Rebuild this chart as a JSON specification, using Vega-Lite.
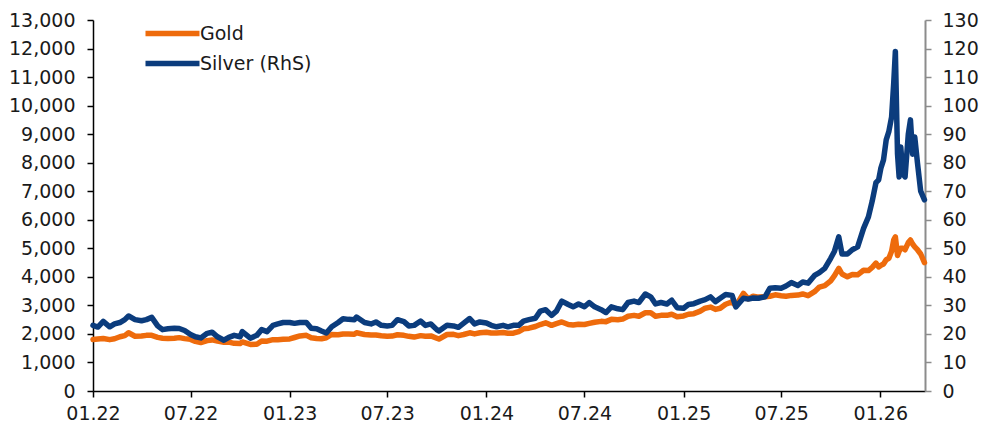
{
  "$schema": "https://vega.github.io/schema/vega-lite/v6.json",
  "width": 832,
  "height": 371,
  "autosize": {"type": "none"},
  "padding": {"left": 93, "top": 20, "right": 57, "bottom": 37},
  "background": "white",
  "config": {
    "view": {"stroke": null},
    "font": "DejaVu Sans",
    "axis": {"grid": false, "title": null, "labelFont": "DejaVu Sans", "labelFontSize": 19, "labelColor": "#1a1a1a", "domainWidth": 1.5, "tickWidth": 1.5, "tickSize": 6}
  },
  "data": {
    "values": [
      {"d": "2022-01-01", "g": 1805, "s": 23.0},
      {"d": "2022-01-10", "g": 1820, "s": 22.4},
      {"d": "2022-01-20", "g": 1840, "s": 24.4},
      {"d": "2022-02-01", "g": 1800, "s": 22.5},
      {"d": "2022-02-10", "g": 1830, "s": 23.5},
      {"d": "2022-02-20", "g": 1900, "s": 24.0},
      {"d": "2022-03-01", "g": 1940, "s": 25.0},
      {"d": "2022-03-08", "g": 2040, "s": 26.3},
      {"d": "2022-03-20", "g": 1920, "s": 25.0},
      {"d": "2022-04-01", "g": 1925, "s": 24.6},
      {"d": "2022-04-10", "g": 1950, "s": 25.0},
      {"d": "2022-04-20", "g": 1950, "s": 25.8},
      {"d": "2022-05-01", "g": 1880, "s": 22.8},
      {"d": "2022-05-10", "g": 1850, "s": 21.5},
      {"d": "2022-05-20", "g": 1840, "s": 21.8},
      {"d": "2022-06-01", "g": 1850, "s": 22.0},
      {"d": "2022-06-10", "g": 1870, "s": 21.9},
      {"d": "2022-06-20", "g": 1835, "s": 21.2},
      {"d": "2022-07-01", "g": 1810, "s": 19.8},
      {"d": "2022-07-10", "g": 1740, "s": 19.0},
      {"d": "2022-07-20", "g": 1700, "s": 18.6},
      {"d": "2022-08-01", "g": 1765, "s": 20.2},
      {"d": "2022-08-10", "g": 1790, "s": 20.6},
      {"d": "2022-08-20", "g": 1750, "s": 19.0},
      {"d": "2022-09-01", "g": 1710, "s": 17.8},
      {"d": "2022-09-10", "g": 1715, "s": 18.8},
      {"d": "2022-09-20", "g": 1670, "s": 19.5},
      {"d": "2022-10-01", "g": 1665, "s": 19.0},
      {"d": "2022-10-05", "g": 1720, "s": 20.8},
      {"d": "2022-10-20", "g": 1630, "s": 18.5},
      {"d": "2022-11-01", "g": 1640, "s": 19.5},
      {"d": "2022-11-10", "g": 1750, "s": 21.5},
      {"d": "2022-11-20", "g": 1745, "s": 20.8},
      {"d": "2022-12-01", "g": 1800, "s": 23.0},
      {"d": "2022-12-10", "g": 1795, "s": 23.5},
      {"d": "2022-12-20", "g": 1810, "s": 24.0},
      {"d": "2023-01-01", "g": 1825, "s": 24.0},
      {"d": "2023-01-10", "g": 1875, "s": 23.7},
      {"d": "2023-01-20", "g": 1930, "s": 24.0},
      {"d": "2023-02-01", "g": 1950, "s": 24.0},
      {"d": "2023-02-10", "g": 1865, "s": 22.0},
      {"d": "2023-02-20", "g": 1840, "s": 21.8},
      {"d": "2023-03-01", "g": 1830, "s": 21.0},
      {"d": "2023-03-10", "g": 1865, "s": 20.3},
      {"d": "2023-03-20", "g": 1980, "s": 22.5},
      {"d": "2023-04-01", "g": 1970, "s": 24.0},
      {"d": "2023-04-10", "g": 2000, "s": 25.3},
      {"d": "2023-04-20", "g": 2000, "s": 25.1},
      {"d": "2023-05-01", "g": 1990, "s": 25.0},
      {"d": "2023-05-05", "g": 2040, "s": 25.9},
      {"d": "2023-05-20", "g": 1980, "s": 24.0},
      {"d": "2023-06-01", "g": 1960, "s": 23.5},
      {"d": "2023-06-10", "g": 1960, "s": 24.2},
      {"d": "2023-06-20", "g": 1935, "s": 23.0},
      {"d": "2023-07-01", "g": 1920, "s": 22.8},
      {"d": "2023-07-10", "g": 1925, "s": 23.0},
      {"d": "2023-07-20", "g": 1970, "s": 25.0},
      {"d": "2023-08-01", "g": 1950, "s": 24.3},
      {"d": "2023-08-10", "g": 1915, "s": 22.8},
      {"d": "2023-08-20", "g": 1890, "s": 23.0},
      {"d": "2023-09-01", "g": 1940, "s": 24.5},
      {"d": "2023-09-10", "g": 1920, "s": 23.0},
      {"d": "2023-09-20", "g": 1930, "s": 23.5},
      {"d": "2023-10-01", "g": 1850, "s": 21.5},
      {"d": "2023-10-05", "g": 1820, "s": 21.0},
      {"d": "2023-10-20", "g": 1980, "s": 23.0},
      {"d": "2023-11-01", "g": 1985, "s": 22.8},
      {"d": "2023-11-10", "g": 1940, "s": 22.3},
      {"d": "2023-11-20", "g": 1980, "s": 23.8},
      {"d": "2023-12-01", "g": 2040, "s": 25.4},
      {"d": "2023-12-10", "g": 2000, "s": 23.5},
      {"d": "2023-12-20", "g": 2040, "s": 24.2},
      {"d": "2024-01-01", "g": 2060, "s": 23.8},
      {"d": "2024-01-10", "g": 2030, "s": 23.0},
      {"d": "2024-01-20", "g": 2030, "s": 22.5},
      {"d": "2024-02-01", "g": 2050, "s": 23.0},
      {"d": "2024-02-10", "g": 2025, "s": 22.5},
      {"d": "2024-02-20", "g": 2025, "s": 23.0},
      {"d": "2024-03-01", "g": 2080, "s": 23.0},
      {"d": "2024-03-10", "g": 2180, "s": 24.5},
      {"d": "2024-03-20", "g": 2200, "s": 25.0},
      {"d": "2024-04-01", "g": 2260, "s": 25.5},
      {"d": "2024-04-10", "g": 2330, "s": 28.0},
      {"d": "2024-04-20", "g": 2390, "s": 28.5},
      {"d": "2024-05-01", "g": 2300, "s": 26.5},
      {"d": "2024-05-10", "g": 2360, "s": 28.0},
      {"d": "2024-05-20", "g": 2420, "s": 31.5},
      {"d": "2024-06-01", "g": 2330, "s": 30.3},
      {"d": "2024-06-10", "g": 2310, "s": 29.5},
      {"d": "2024-06-20", "g": 2340, "s": 30.5},
      {"d": "2024-07-01", "g": 2330, "s": 29.5},
      {"d": "2024-07-10", "g": 2370, "s": 31.0},
      {"d": "2024-07-20", "g": 2410, "s": 29.5},
      {"d": "2024-08-01", "g": 2440, "s": 28.5},
      {"d": "2024-08-10", "g": 2430, "s": 27.5},
      {"d": "2024-08-20", "g": 2510, "s": 29.5},
      {"d": "2024-09-01", "g": 2500, "s": 28.8},
      {"d": "2024-09-10", "g": 2520, "s": 28.5},
      {"d": "2024-09-20", "g": 2620, "s": 31.0},
      {"d": "2024-10-01", "g": 2650, "s": 31.5},
      {"d": "2024-10-10", "g": 2620, "s": 31.0},
      {"d": "2024-10-22", "g": 2740, "s": 34.0},
      {"d": "2024-11-01", "g": 2740, "s": 33.0},
      {"d": "2024-11-10", "g": 2620, "s": 30.5},
      {"d": "2024-11-20", "g": 2650, "s": 31.0},
      {"d": "2024-12-01", "g": 2650, "s": 30.5},
      {"d": "2024-12-10", "g": 2690, "s": 31.8},
      {"d": "2024-12-20", "g": 2600, "s": 29.2},
      {"d": "2025-01-01", "g": 2630, "s": 29.0},
      {"d": "2025-01-10", "g": 2690, "s": 30.3},
      {"d": "2025-01-20", "g": 2710, "s": 30.6},
      {"d": "2025-02-01", "g": 2800, "s": 31.5},
      {"d": "2025-02-10", "g": 2900, "s": 32.0},
      {"d": "2025-02-20", "g": 2940, "s": 33.0},
      {"d": "2025-03-01", "g": 2860, "s": 31.3},
      {"d": "2025-03-10", "g": 2900, "s": 32.5},
      {"d": "2025-03-20", "g": 3040, "s": 33.8},
      {"d": "2025-04-01", "g": 3120, "s": 33.5},
      {"d": "2025-04-08", "g": 2980, "s": 29.5},
      {"d": "2025-04-22", "g": 3420, "s": 32.5},
      {"d": "2025-05-01", "g": 3230, "s": 32.2},
      {"d": "2025-05-10", "g": 3320, "s": 32.6},
      {"d": "2025-05-20", "g": 3290, "s": 32.5},
      {"d": "2025-06-01", "g": 3300, "s": 33.0},
      {"d": "2025-06-10", "g": 3320, "s": 36.0},
      {"d": "2025-06-20", "g": 3370, "s": 36.2},
      {"d": "2025-07-01", "g": 3340, "s": 36.0},
      {"d": "2025-07-10", "g": 3320, "s": 36.8},
      {"d": "2025-07-20", "g": 3350, "s": 38.0},
      {"d": "2025-08-01", "g": 3360, "s": 37.0},
      {"d": "2025-08-10", "g": 3400, "s": 38.2},
      {"d": "2025-08-20", "g": 3340, "s": 37.8},
      {"d": "2025-09-01", "g": 3480, "s": 40.5},
      {"d": "2025-09-10", "g": 3640, "s": 41.5},
      {"d": "2025-09-20", "g": 3690, "s": 43.0},
      {"d": "2025-10-01", "g": 3860, "s": 46.5},
      {"d": "2025-10-08", "g": 4040, "s": 49.0},
      {"d": "2025-10-16", "g": 4300, "s": 54.0},
      {"d": "2025-10-22", "g": 4100, "s": 48.0},
      {"d": "2025-11-01", "g": 4000, "s": 48.0},
      {"d": "2025-11-10", "g": 4080, "s": 49.5},
      {"d": "2025-11-20", "g": 4070, "s": 50.5},
      {"d": "2025-12-01", "g": 4230, "s": 57.0},
      {"d": "2025-12-10", "g": 4220, "s": 61.0},
      {"d": "2025-12-17", "g": 4330, "s": 66.5},
      {"d": "2025-12-24", "g": 4480, "s": 73.0},
      {"d": "2025-12-29", "g": 4350, "s": 74.0},
      {"d": "2026-01-02", "g": 4400, "s": 78.0},
      {"d": "2026-01-07", "g": 4450, "s": 81.0},
      {"d": "2026-01-12", "g": 4600, "s": 88.0},
      {"d": "2026-01-17", "g": 4650, "s": 91.0},
      {"d": "2026-01-22", "g": 4900, "s": 96.0},
      {"d": "2026-01-26", "g": 5300, "s": 108.0},
      {"d": "2026-01-29", "g": 5400, "s": 119.0},
      {"d": "2026-02-02", "g": 4750, "s": 83.0},
      {"d": "2026-02-05", "g": 4900, "s": 75.0},
      {"d": "2026-02-08", "g": 5000, "s": 85.5},
      {"d": "2026-02-12", "g": 5000, "s": 76.0},
      {"d": "2026-02-16", "g": 4950, "s": 75.0},
      {"d": "2026-02-22", "g": 5200, "s": 90.0},
      {"d": "2026-02-26", "g": 5290, "s": 95.0},
      {"d": "2026-03-02", "g": 5150, "s": 83.0},
      {"d": "2026-03-06", "g": 5050, "s": 89.0},
      {"d": "2026-03-11", "g": 4950, "s": 80.0},
      {"d": "2026-03-17", "g": 4800, "s": 70.0},
      {"d": "2026-03-24", "g": 4500, "s": 67.0}
    ]
  },
  "encoding": {
    "x": {
      "field": "d",
      "type": "temporal",
      "scale": {"domain": [{"year": 2022, "month": 1, "date": 1}, {"year": 2026, "month": 3, "date": 25}]},
      "axis": {
        "values": [
          {"year": 2022, "month": 1, "date": 1}, {"year": 2022, "month": 7, "date": 1},
          {"year": 2023, "month": 1, "date": 1}, {"year": 2023, "month": 7, "date": 1},
          {"year": 2024, "month": 1, "date": 1}, {"year": 2024, "month": 7, "date": 1},
          {"year": 2025, "month": 1, "date": 1}, {"year": 2025, "month": 7, "date": 1},
          {"year": 2026, "month": 1, "date": 1}
        ],
        "format": "%m.%y",
        "domainColor": "#000000",
        "tickColor": "#000000",
        "labelPadding": 7,
        "labelFlush": false
      }
    }
  },
  "layer": [
    {
      "mark": {"type": "line", "strokeWidth": 5.5, "strokeJoin": "round", "strokeCap": "round"},
      "encoding": {
        "y": {
          "field": "g",
          "type": "quantitative",
          "scale": {"domain": [0, 13000], "nice": false},
          "axis": {
            "orient": "left",
            "values": [0, 1000, 2000, 3000, 4000, 5000, 6000, 7000, 8000, 9000, 10000, 11000, 12000, 13000],
            "format": ",.0f",
            "domainColor": "#000000",
            "tickColor": "#000000",
            "labelPadding": 12
          }
        },
        "color": {
          "datum": "Gold",
          "type": "nominal",
          "scale": {"domain": ["Gold", "Silver (RhS)"], "range": ["#EE6B0C", "#0B3C7D"]},
          "legend": {
            "title": null,
            "orient": "none",
            "legendX": 63,
            "legendY": -3,
            "symbolType": "M-2,0L2,0",
            "symbolSize": 729,
            "symbolStrokeWidth": 5.5,
            "labelFontSize": 19,
            "labelFont": "DejaVu Sans",
            "labelColor": "#1a1a1a",
            "labelOffset": 11,
            "rowPadding": 2
          }
        }
      }
    },
    {
      "mark": {"type": "line", "strokeWidth": 5.5, "strokeJoin": "round", "strokeCap": "round"},
      "encoding": {
        "y": {
          "field": "s",
          "type": "quantitative",
          "scale": {"domain": [0, 130], "nice": false},
          "axis": {
            "orient": "right",
            "values": [0, 10, 20, 30, 40, 50, 60, 70, 80, 90, 100, 110, 120, 130],
            "domainColor": "#8c8c8c",
            "tickColor": "#8c8c8c",
            "domainWidth": 2,
            "labelPadding": 11
          }
        },
        "color": {"datum": "Silver (RhS)", "type": "nominal"}
      }
    }
  ],
  "resolve": {"scale": {"y": "independent"}}
}
